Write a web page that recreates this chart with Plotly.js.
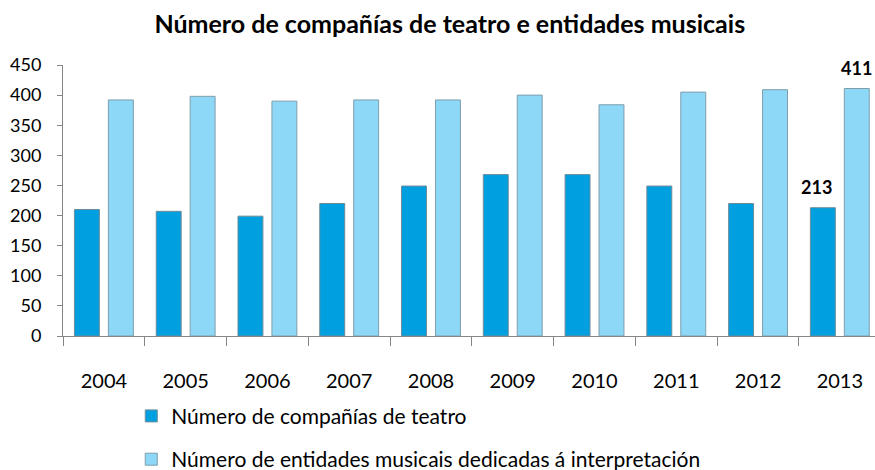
<!DOCTYPE html>
<html>
<head>
<meta charset="utf-8">
<script src="https://cdn.plot.ly/plotly-3.0.1.min.js"></script>
<style>html,body{margin:0;padding:0;background:#fff;}#chart{width:875px;height:470px;}</style>
</head>
<body>
<div id="chart"></div>
<script>
const years = ['2004','2005','2006','2007','2008','2009','2010','2011','2012','2013'];
const teatro = [210, 207, 199, 220, 249, 268, 268, 249, 220, 213];
const musicais = [392, 398, 390, 392, 392, 400, 384, 405, 409, 411];
const seriesNames = ['Número de compañías de teatro', 'Número de entidades musicais dedicadas á interpretación'];
const chartTitle = 'Número de compañías de teatro e entidades musicais';
const labelledIndex = 9;

const FONT = 'Lato, "Open Sans", sans-serif';

const traces = [
  {
    type: 'bar', x: years, y: teatro, name: seriesNames[0],
    marker: {color: '#009FDF', line: {color: '#6E8C9A', width: 1}},
    legendgroup: 'a', hoverinfo: 'x+y'
  },
  {
    type: 'bar', x: years, y: musicais, name: seriesNames[1],
    marker: {color: '#8DD7F7', line: {color: '#7E9EAC', width: 1}},
    legendgroup: 'b', hoverinfo: 'x+y'
  }
];

const layout = {
  width: 875, height: 470,
  paper_bgcolor: '#fff', plot_bgcolor: '#fff',
  font: {family: FONT, color: '#000'},
  margin: {l: 63, r: 0, t: 65, b: 134, pad: 0, autoexpand: false},
  title: {
    text: '<b>' + chartTitle + '</b>',
    font: {family: FONT, size: 25, color: '#000'},
    x: 0.514, xref: 'container', xanchor: 'center', y: 0.948, yanchor: 'middle', yref: 'container'
  },
  barmode: 'group', bargap: 0.17, bargroupgap: 0.265,
  xaxis: {
    type: 'category', range: [-0.5, 9.43],
    showline: true, linecolor: '#868686', linewidth: 1,
    ticks: 'outside', tickson: 'boundaries', ticklen: 9, tickcolor: '#868686',
    tickfont: {family: FONT, size: 20, color: '#000'}, tickangle: 0,
    ticklabelstandoff: 27, showgrid: false, zeroline: false, automargin: false
  },
  yaxis: {
    range: [0, 450], tickvals: [0,50,100,150,200,250,300,350,400,450],
    showline: true, linecolor: '#868686', linewidth: 1,
    ticks: 'outside', ticklen: 5, tickcolor: '#868686',
    tickfont: {family: FONT, size: 18, color: '#000'},
    ticklabelstandoff: 12, showgrid: false, zeroline: false, automargin: false
  },
  annotations: [
    {x: labelledIndex, y: teatro[labelledIndex], xref: 'x', yref: 'y',
     text: '<b>' + teatro[labelledIndex] + '</b>', showarrow: false,
     xanchor: 'center', yanchor: 'bottom', xshift: -23, yshift: 8,
     font: {family: FONT, size: 18, color: '#000'}},
    {x: labelledIndex, y: musicais[labelledIndex], xref: 'x', yref: 'y',
     text: '<b>' + musicais[labelledIndex] + '</b>', showarrow: false,
     xanchor: 'center', yanchor: 'bottom', xshift: 17, yshift: 7,
     font: {family: FONT, size: 18, color: '#000'}}
  ],
  legend: {
    orientation: 'v', x: 0.15, y: 0.158, xref: 'container', yref: 'container',
    xanchor: 'left', yanchor: 'top',
    font: {family: FONT, size: 21, color: '#000'},
    tracegroupgap: 13, itemwidth: 30, traceorder: 'grouped', bgcolor: 'rgba(0,0,0,0)'
  },
  showlegend: true
};

Plotly.newPlot('chart', traces, layout, {displayModeBar: false, staticPlot: true});
</script>
</body>
</html>
